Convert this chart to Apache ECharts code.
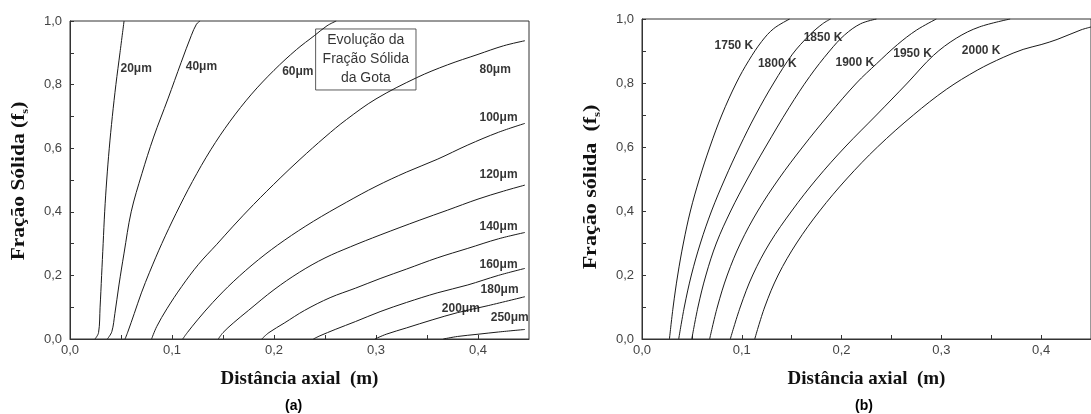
<!DOCTYPE html>
<html>
<head>
<meta charset="utf-8">
<script src="https://cdn.jsdelivr.net/npm/echarts@6/dist/echarts.min.js"></script>
<style>
html,body{margin:0;padding:0;background:#fff;}
#chart{width:1091px;height:414px;}
</style>
</head>
<body>
<div id="chart"></div>
<script>
// ---------- Panel (a): droplet size curves [distance (m), solid fraction] ----------
const d20  = [[0.0245,0],[0.028,0.02],[0.0295,0.1],[0.031,0.2],[0.0325,0.3],[0.034,0.4],[0.036,0.5],[0.0385,0.6],[0.0415,0.7],[0.045,0.8],[0.049,0.9],[0.053,1.0]];
const d40  = [[0.0366,0],[0.041,0.023],[0.044,0.08],[0.048,0.17],[0.053,0.27],[0.060,0.40],[0.0705,0.52],[0.082,0.635],[0.096,0.755],[0.109,0.87],[0.119,0.955],[0.124,0.99],[0.1275,1.0]];
const d60  = [[0.054,0],[0.057,0.025],[0.063,0.08],[0.070,0.145],[0.078,0.21],[0.090,0.30],[0.104,0.395],[0.120,0.495],[0.138,0.595],[0.157,0.685],[0.178,0.77],[0.200,0.845],[0.222,0.91],[0.240,0.955],[0.252,0.985],[0.261,1.0]];
const d80  = [[0.080,0],[0.085,0.039],[0.095,0.095],[0.1095,0.165],[0.126,0.235],[0.144,0.298],[0.160,0.355],[0.180,0.423],[0.206,0.506],[0.2255,0.565],[0.250,0.635],[0.271,0.69],[0.300,0.755],[0.340,0.822],[0.370,0.862],[0.400,0.895],[0.425,0.922],[0.446,0.938]];
const d100 = [[0.1105,0],[0.115,0.02],[0.125,0.06],[0.140,0.115],[0.160,0.18],[0.185,0.25],[0.210,0.31],[0.2386,0.37],[0.271,0.43],[0.300,0.48],[0.330,0.525],[0.360,0.565],[0.390,0.61],[0.420,0.65],[0.446,0.678]];
const d120 = [[0.1454,0],[0.150,0.02],[0.160,0.05],[0.175,0.09],[0.200,0.155],[0.225,0.21],[0.250,0.255],[0.275,0.29],[0.304,0.327],[0.343,0.374],[0.370,0.405],[0.400,0.44],[0.425,0.465],[0.446,0.484]];
const d140 = [[0.188,0],[0.195,0.02],[0.210,0.05],[0.230,0.09],[0.255,0.13],[0.280,0.16],[0.304,0.19],[0.330,0.22],[0.360,0.255],[0.390,0.285],[0.420,0.315],[0.446,0.335]];
const d160 = [[0.2386,0],[0.245,0.01],[0.260,0.03],[0.280,0.055],[0.304,0.086],[0.330,0.115],[0.360,0.145],[0.390,0.17],[0.420,0.20],[0.446,0.222]];
const d200 = [[0.299,0],[0.310,0.015],[0.330,0.035],[0.355,0.06],[0.380,0.083],[0.410,0.105],[0.446,0.133]];
const d250 = [[0.366,0],[0.380,0.008],[0.400,0.015],[0.420,0.022],[0.446,0.03]];

const sizeLabels = ['20μm','40μm','60μm','80μm','100μm','120μm','140μm','160μm','180μm','200μm','250μm'];
const sizeLabelX = [0.049,0.113,0.2075,0.401,0.401,0.401,0.401,0.401,0.402,0.364,0.412];
const sizeLabelY = [0.849,0.855,0.84,0.847,0.695,0.516,0.353,0.233,0.156,0.0965,0.068];
const boxText = 'Evolução da\nFração Sólida\nda Gota';
const boxPos = [0.290, 0.879];

// ---------- Panel (b): temperature curves ----------
const t1750 = [[0.0275,0],[0.0312,0.1],[0.0358,0.2],[0.0415,0.3],[0.0485,0.4],[0.0575,0.5],[0.068,0.6],[0.080,0.7],[0.0945,0.8],[0.107,0.87],[0.120,0.93],[0.132,0.97],[0.148,1.0]];
const t1800 = [[0.0368,0],[0.0424,0.1],[0.0495,0.2],[0.0586,0.3],[0.0697,0.4],[0.083,0.5],[0.0977,0.6],[0.1138,0.7],[0.132,0.8],[0.1508,0.89],[0.168,0.95],[0.181,0.985],[0.189,1.0]];
const t1850 = [[0.0499,0],[0.0561,0.1],[0.0641,0.2],[0.0746,0.3],[0.0889,0.4],[0.1056,0.5],[0.1238,0.6],[0.1476,0.724],[0.168,0.82],[0.188,0.90],[0.203,0.95],[0.219,0.985],[0.235,1.0]];
const t1900 = [[0.0678,0],[0.0755,0.1],[0.0855,0.2],[0.0988,0.3],[0.116,0.4],[0.137,0.5],[0.161,0.6],[0.187,0.7],[0.215,0.8],[0.235,0.86],[0.256,0.92],[0.275,0.965],[0.295,1.0]];
const t1950 = [[0.0885,0],[0.0985,0.1],[0.111,0.2],[0.128,0.3],[0.150,0.4],[0.175,0.5],[0.2035,0.6],[0.235,0.7],[0.266,0.8],[0.292,0.886],[0.315,0.94],[0.338,0.975],[0.369,1.0]];
const t2000 = [[0.113,0],[0.123,0.1],[0.1365,0.2],[0.155,0.3],[0.178,0.4],[0.205,0.5],[0.236,0.6],[0.272,0.7],[0.305,0.78],[0.336,0.84],[0.362,0.88],[0.382,0.905],[0.400,0.92],[0.416,0.936],[0.440,0.966],[0.450,0.975]];

const tempLabels = ['1750 K','1800 K','1850 K','1900 K','1950 K','2000 K'];
const tempLabelX = [0.0722,0.1157,0.1615,0.1934,0.2513,0.320];
const tempLabelY = [0.917,0.861,0.943,0.865,0.891,0.901];

const xTickLabels = ['0,0','0,1','0,2','0,3','0,4'];
const yTickLabels = ['0,0','0,2','0,4','0,6','0,8','1,0'];
const xTitle = 'Distância axial  (m)';
const yTitleA = '{a|Fração Sólida (f}{s|s}{a|)}';
const yTitleB = '{a|Fração sólida  (f}{s|s}{a|)}';

// ---------- helpers ----------
function xFmt(v){ const r=Math.round(v*10); return Math.abs(v*10-r)<1e-6 && xTickLabels[r]!==undefined ? xTickLabels[r] : ''; }
function yFmt(v){ const r=Math.round(v*5); return Math.abs(v*5-r)<1e-6 && yTickLabels[r]!==undefined ? yTickLabels[r] : ''; }

const axisColor = '#333';
function makeX(gi, name){
  return {
    type:'value', gridIndex:gi, min:0, max:0.45, interval:0.05,
    name:name, nameLocation:'middle', nameGap:31,
    nameTextStyle:{fontFamily:'Liberation Serif', fontWeight:'bold', fontSize:19, color:'#111'},
    axisLine:{show:true, lineStyle:{color:axisColor, width:1}},
    axisTick:{show:true, inside:true, length:4, lineStyle:{color:axisColor}},
    splitLine:{show:false},
    axisLabel:{formatter:xFmt, fontFamily:'Liberation Sans', fontSize:13, color:'#444', margin:5, showMaxLabel:false}
  };
}
function makeY(gi){
  return {
    type:'value', gridIndex:gi, min:0, max:1, interval:0.1,
    axisLine:{show:true, lineStyle:{color:axisColor, width:1}},
    axisTick:{show:true, inside:true, length:4, lineStyle:{color:axisColor}},
    splitLine:{show:false},
    axisLabel:{formatter:yFmt, fontFamily:'Liberation Sans', fontSize:13, color:'#444', margin:8}
  };
}
function line(data, gi){
  return {type:'line', xAxisIndex:gi, yAxisIndex:gi, data:data, symbol:'none', showSymbol:false,
    smooth:0.35, silent:true, lineStyle:{color:'#1a1a1a', width:1}};
}
function labels(texts, xs, ys, gi){
  return {type:'scatter', xAxisIndex:gi, yAxisIndex:gi, symbolSize:1, silent:true,
    itemStyle:{color:'rgba(0,0,0,0)'},
    data: texts.map((t,i)=>({value:[xs[i], ys[i]], label:{formatter:t}})),
    label:{show:true, position:'right', distance:0, fontFamily:'Liberation Sans', fontWeight:'bold', fontSize:12, color:'#000'}};
}
const titleRich = {
  a:{fontFamily:'Liberation Serif', fontWeight:'bold', fontSize:19, fill:'#111', color:'#111', lineHeight:24, verticalAlign:'middle'},
  s:{fontFamily:'Liberation Serif', fontWeight:'bold', fontSize:11, fill:'#111', color:'#111', lineHeight:11, verticalAlign:'bottom'}
};

const series = [];
[d20,d40,d60,d80,d100,d120,d140,d160,d200,d250].forEach(d=>series.push(line(d,0)));
[t1750,t1800,t1850,t1900,t1950,t2000].forEach(d=>series.push(line(d,1)));
series.push(labels(sizeLabels, sizeLabelX, sizeLabelY, 0));
series.push(labels(tempLabels, tempLabelX, tempLabelY, 1));
series.push({type:'scatter', xAxisIndex:0, yAxisIndex:0, symbolSize:1, silent:true,
  itemStyle:{color:'rgba(0,0,0,0)'},
  data:[{value:boxPos}],
  label:{show:true, position:'inside', formatter:boxText, align:'center',
    fontFamily:'Liberation Sans', fontSize:14, color:'#000', lineHeight:19,
    borderColor:'#333', borderWidth:1, padding:[2,7,2,7]}});

const chart = echarts.init(document.getElementById('chart'), null, {renderer:'canvas'});
chart.setOption({
  animation:false,
  backgroundColor:'#fff',
  grid:[
    {left:70, top:21, right:562, bottom:75, show:true, borderColor:axisColor, borderWidth:1},
    {left:642, top:19, right:-10, bottom:75, show:true, borderColor:axisColor, borderWidth:1}
  ],
  xAxis:[makeX(0,xTitle), makeX(1,xTitle)],
  yAxis:[makeY(0), makeY(1)],
  series:series,
  graphic:[
    {type:'text', x:19, y:181, rotation:Math.PI/2, scaleX:1.13,
      style:{text:yTitleA, rich:titleRich, align:'center', verticalAlign:'middle'}},
    {type:'text', x:591, y:187, rotation:Math.PI/2, scaleX:1.16,
      style:{text:yTitleB, rich:titleRich, align:'center', verticalAlign:'middle'}},
    {type:'text', left:285, top:399, style:{text:'(a)', font:'bold 14px "Liberation Sans"', fill:'#000'}},
    {type:'text', left:855, top:399, style:{text:'(b)', font:'bold 14px "Liberation Sans"', fill:'#000'}}
  ]
});
</script>
</body>
</html>
